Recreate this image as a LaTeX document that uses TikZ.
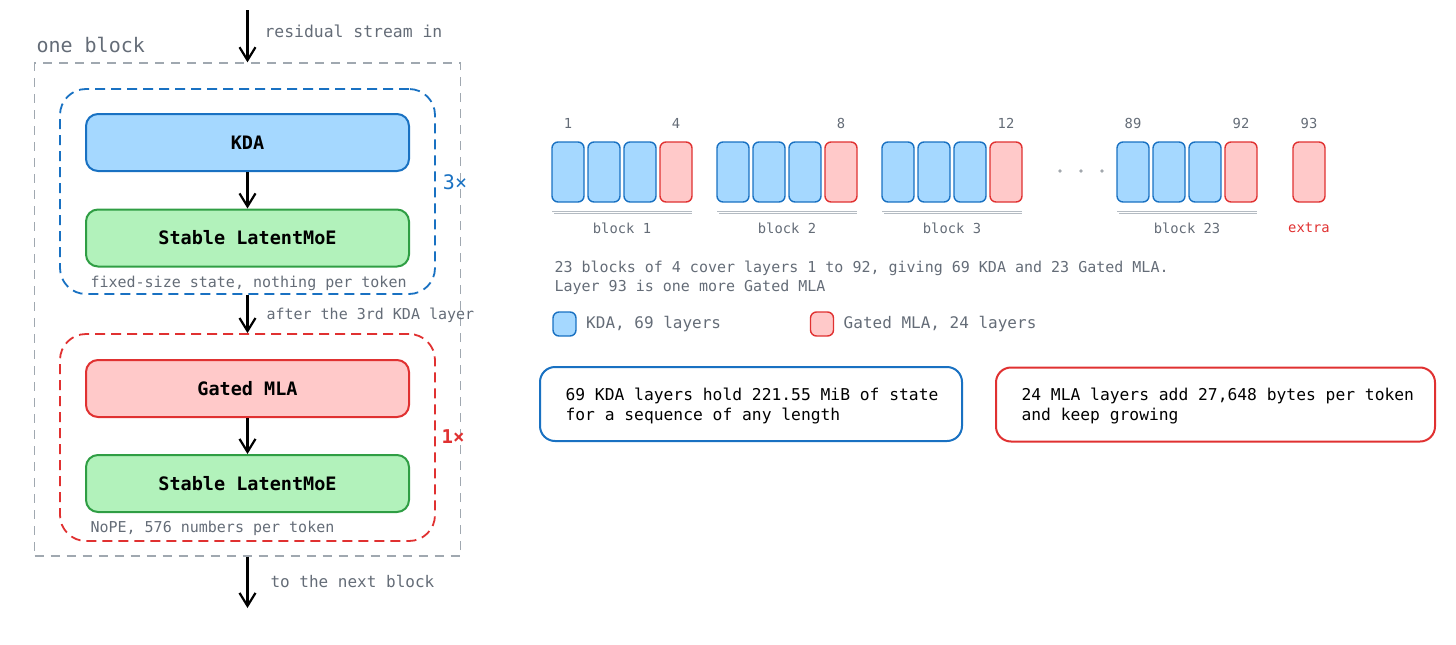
\documentclass[tikz,border=0pt]{standalone}
\usepackage{fontspec}
\setmainfont{DejaVu Sans Mono}
\usepackage{xcolor}
\usetikzlibrary{arrows.meta, positioning}

\definecolor{kdaline}{HTML}{1971C2}
\definecolor{kdafill}{HTML}{A5D8FF}
\definecolor{mlaline}{HTML}{E03131}
\definecolor{mlafill}{HTML}{FFC9C9}
\definecolor{moeline}{HTML}{2F9E44}
\definecolor{moefill}{HTML}{B2F2BB}
\definecolor{textgray}{HTML}{646C77}
\definecolor{framegray}{HTML}{A0A8B0}
\definecolor{rulegray}{HTML}{B4BBC2}

\begin{document}
\begin{tikzpicture}[x=1pt, y=-1pt,
    note/.style={text=textgray, font=\fontsize{15}{19}\selectfont},
    tag/.style={text=textgray, font=\fontsize{13.8}{16}\selectfont},
    flow/.style={-{Straight Barb[length=13pt,width=16pt,line width=2.2pt]}, line width=2.4pt, black},
    stage/.style={draw, rounded corners=12pt, line width=2pt, minimum width=323pt,
        minimum height=57pt, font=\bfseries\fontsize{18.5}{20}\selectfont},
    layer/.style={draw, rounded corners=6pt, line width=1.4pt, minimum width=32pt,
        minimum height=60pt, inner sep=0pt},
    kdalayer/.style={layer, draw=kdaline, fill=kdafill},
    mlalayer/.style={layer, draw=mlaline, fill=mlafill},
    infobox/.style={draw, rounded corners=15pt, line width=2pt, minimum height=74pt}]
    \useasboundingbox (0,0) rectangle (1456,645);

    % one block, left side
    \node[draw=framegray, dash pattern=on 9pt off 7pt, line width=1.4pt,
        minimum width=426pt, minimum height=493pt] (outer) at (247.5,309.5) {};
    \node[anchor=west, text=textgray, font=\fontsize{20}{22}\selectfont] (onelbl) at (33,45) {one block};

    \node[draw=kdaline, dash pattern=on 10pt off 6pt, line width=1.8pt, rounded corners=26pt,
        minimum width=375pt, minimum height=205pt] (rep) at (247.5,191.5) {};
    \node[draw=mlaline, dash pattern=on 10pt off 6pt, line width=1.8pt, rounded corners=26pt,
        minimum width=375pt, minimum height=207pt] (att) at (247.5,437.5) {};

    \node[stage, draw=kdaline, fill=kdafill] (kda) at (247.5,142.5) {KDA};
    \node[stage, draw=moeline, fill=moefill] (moeA) at (247.5,238) {Stable LatentMoE};
    \node[stage, draw=mlaline, fill=mlafill] (mla) at (247.5,388.5) {Gated MLA};
    \node[stage, draw=moeline, fill=moefill] (moeB) at (247.5,483.5) {Stable LatentMoE};

    \node[note, anchor=west] (fixlbl) at (87,283) {fixed-size state, nothing per token};
    \node[note, anchor=west] (nopelbl) at (87,528) {NoPE, 576 numbers per token};
    \node[text=kdaline, font=\fontsize{20}{22}\selectfont] (rep3) at (455,182) {3×};
    \node[text=mlaline, font=\bfseries\fontsize{19}{22}\selectfont] (rep1) at (453,437) {1×};

    \coordinate (in) at (247.5,10);
    \coordinate (out) at (247.5,608);
    \draw[flow] (in) -- (outer.north);
    \draw[flow] (kda) -- (moeA);
    \draw[flow] (rep.south) -- (att.north);
    \draw[flow] (mla) -- (moeB);
    \draw[flow] (outer.south) -- (out);

    \node[text=textgray, anchor=west, font=\fontsize{16.4}{19}\selectfont] (inlbl) at (261,31) {residual stream in};
    \node[note, anchor=west] (afterlbl) at (263,315) {after the 3rd KDA layer};
    \node[text=textgray, anchor=west, font=\fontsize{16}{19}\selectfont] (outlbl) at (267,581) {to the next block};

    % layer strip
    \foreach \bx/\bn/\blbl in {552/1/block 1, 717/2/block 2, 882/3/block 3, 1117/23/block 23} {
        \foreach \i in {0,1,2} {
            \node[kdalayer] (L\bn-\i) at (\bx+16+36*\i,172) {};
        }
        \node[mlalayer] (L\bn-3) at (\bx+124,172) {};
        \draw[rulegray, line width=1pt] (\bx,211) -- ++(140,0);
        \draw[rulegray, line width=1pt] (\bx+2,213.5) -- ++(138,0);
        \node[tag] (B\bn) at (\bx+70,228) {\blbl};
    }
    \node[mlalayer] (L93) at (1309,172) {};
    \node[text=mlaline, font=\fontsize{13.8}{16}\selectfont] (extra) at (1309,228) {extra};

    \foreach \nx/\num in {568/1, 676/4, 841/8, 1006/12, 1133/89, 1241/92, 1309/93} {
        \node[tag] at (\nx,123) {\num};
    }
    \foreach \dx in {1060,1081,1102} {
        \fill[textgray!60] (\dx,171) circle (1.8pt);
    }

    \node[note, anchor=west, align=left] (summary) at (551,278)
        {23 blocks of 4 cover layers 1 to 92, giving 69 KDA and 23 Gated MLA.\\Layer 93 is one more Gated MLA};

    % legend
    \node[layer, draw=kdaline, fill=kdafill, minimum width=23pt, minimum height=24pt] (keyK) at (564.5,324) {};
    \node[text=textgray, anchor=west, font=\fontsize{16}{19}\selectfont, right=6pt of keyK] (keyKlbl) {KDA, 69 layers};
    \node[layer, draw=mlaline, fill=mlafill, minimum width=23pt, minimum height=24pt] (keyM) at (822,324) {};
    \node[text=textgray, anchor=west, font=\fontsize{16}{19}\selectfont, right=6pt of keyM] (keyMlbl) {Gated MLA, 24 layers};

    % what each kind keeps
    \node[infobox, draw=kdaline, minimum width=422pt] (kdanote) at (751,404) {};
    \node[infobox, draw=mlaline, minimum width=439pt] (mlanote) at (1215.5,404.5) {};
    \node[anchor=west, align=left, font=\fontsize{16.3}{20}\selectfont] (kdatext) at (562,406)
        {69 KDA layers hold 221.55 MiB of state\\for a sequence of any length};
    \node[anchor=west, align=left, font=\fontsize{16.3}{20}\selectfont] (mlatext) at (1018,406)
        {24 MLA layers add 27,648 bytes per token\\and keep growing};
\end{tikzpicture}
\end{document}
